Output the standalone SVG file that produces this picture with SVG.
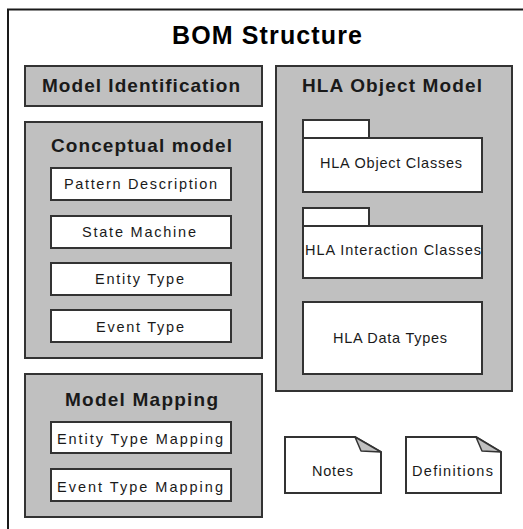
<svg xmlns="http://www.w3.org/2000/svg" width="523" height="529" viewBox="0 0 523 529">
  <style>
    .frame { fill: #ffffff; stroke: #1a1a1a; stroke-width: 2; }
    .pkg { fill: #c0c0c0; stroke: #333333; stroke-width: 2; }
    .box { fill: #ffffff; stroke: #333333; stroke-width: 2; }
    .fold { fill: #c0c0c0; stroke: #333333; stroke-width: 1.5; stroke-linejoin: round; }
    .title { font-family: "Liberation Sans", Arial, sans-serif; font-weight: bold; font-size: 25px; fill: #000; }
    .head { font-family: "Liberation Sans", Arial, sans-serif; font-weight: bold; font-size: 19px; fill: #1a1a1a; }
    .item { font-family: "Liberation Sans", Arial, sans-serif; font-size: 14.5px; fill: #1a1a1a; }
  </style>

  <!-- outer frame (extends past right and bottom edge) -->
  <rect class="frame" x="8" y="9.5" width="560" height="560"/>
  <text class="title" x="172" y="44" textLength="190" lengthAdjust="spacing">BOM Structure</text>

  <g id="model-identification">
    <rect class="pkg" x="25" y="66" width="237" height="40"/>
    <text class="head" x="42" y="92" textLength="198" lengthAdjust="spacing">Model Identification</text>
  </g>

  <g id="conceptual-model">
    <rect class="pkg" x="25" y="122" width="237" height="236"/>
    <text class="head" x="51" y="152" textLength="181" lengthAdjust="spacing">Conceptual model</text>
    <g id="pattern-description">
      <rect class="box" x="51" y="168" width="180" height="32"/>
      <text class="item" x="64" y="189" textLength="153" lengthAdjust="spacing">Pattern Description</text>
    </g>
    <g id="state-machine">
      <rect class="box" x="51" y="216" width="180" height="32"/>
      <text class="item" x="82" y="237" textLength="114" lengthAdjust="spacing">State Machine</text>
    </g>
    <g id="entity-type">
      <rect class="box" x="51" y="263" width="180" height="32"/>
      <text class="item" x="95" y="284" textLength="89" lengthAdjust="spacing">Entity Type</text>
    </g>
    <g id="event-type">
      <rect class="box" x="51" y="310" width="180" height="32"/>
      <text class="item" x="96" y="332" textLength="88" lengthAdjust="spacing">Event Type</text>
    </g>
  </g>

  <g id="model-mapping">
    <rect class="pkg" x="25" y="374" width="237" height="143"/>
    <text class="head" x="65" y="406" textLength="153" lengthAdjust="spacing">Model Mapping</text>
    <g id="entity-type-mapping">
      <rect class="box" x="51" y="422" width="180" height="31"/>
      <text class="item" x="57" y="444" textLength="166" lengthAdjust="spacing">Entity Type Mapping</text>
    </g>
    <g id="event-type-mapping">
      <rect class="box" x="51" y="469" width="180" height="32"/>
      <text class="item" x="57" y="492" textLength="166" lengthAdjust="spacing">Event Type Mapping</text>
    </g>
  </g>

  <g id="hla-object-model">
    <rect class="pkg" x="276" y="66" width="236" height="325"/>
    <text class="head" x="302" y="92" textLength="180" lengthAdjust="spacing">HLA Object Model</text>
    <g id="hla-object-classes">
      <rect class="box" x="303" y="120" width="66" height="18"/>
      <rect class="box" x="303" y="138" width="179" height="54"/>
      <text class="item" x="320" y="168" textLength="142" lengthAdjust="spacing">HLA Object Classes</text>
    </g>
    <g id="hla-interaction-classes">
      <rect class="box" x="303" y="208" width="66" height="18"/>
      <rect class="box" x="303" y="226" width="179" height="52"/>
      <text class="item" x="305" y="255" textLength="176" lengthAdjust="spacing">HLA Interaction Classes</text>
    </g>
    <g id="hla-data-types">
      <rect class="box" x="303" y="302" width="179" height="72"/>
      <text class="item" x="333" y="343" textLength="114" lengthAdjust="spacing">HLA Data Types</text>
    </g>
  </g>

  <g id="notes">
    <path class="box" d="M285,437 H355 L381,452 V493 H285 Z"/>
    <path class="fold" d="M355,437 L361,451 L381,452 Z"/>
    <text class="item" x="312" y="476" textLength="41" lengthAdjust="spacing">Notes</text>
  </g>

  <g id="definitions">
    <path class="box" d="M406,437 H476 L501,452 V493 H406 Z"/>
    <path class="fold" d="M476,437 L482,451 L501,452 Z"/>
    <text class="item" x="412" y="476" textLength="81" lengthAdjust="spacing">Definitions</text>
  </g>

  <g id="connectors"/>
</svg>
